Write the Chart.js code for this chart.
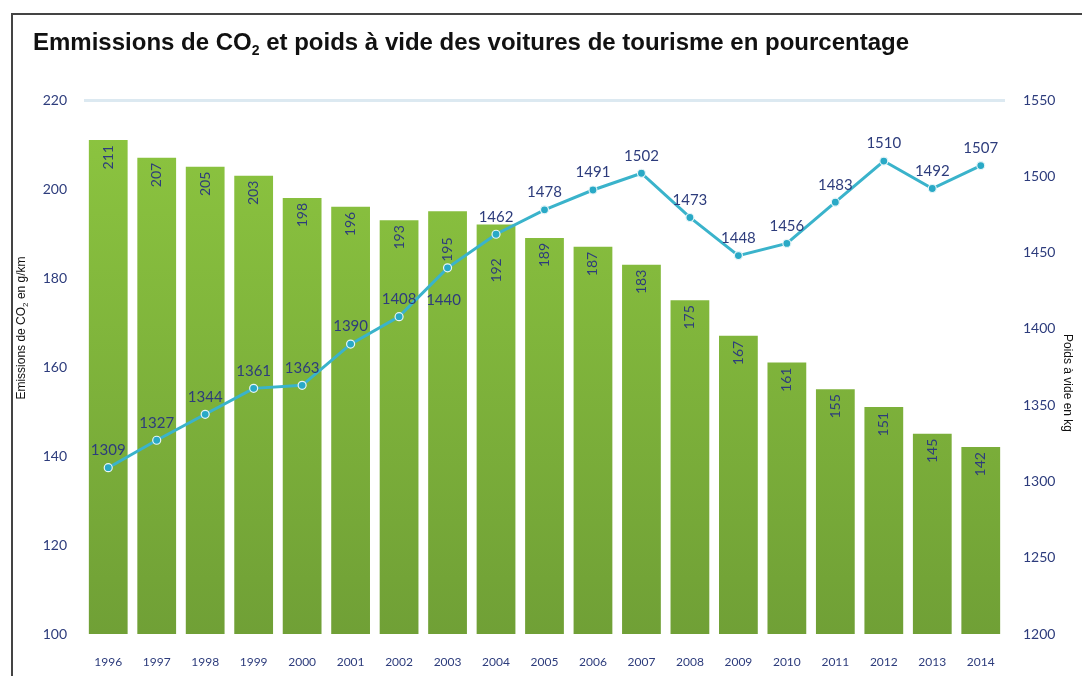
<!DOCTYPE html>
<html>
<head>
<meta charset="utf-8">
<script src="https://cdn.jsdelivr.net/npm/chart.js@4.4.0/dist/chart.umd.min.js"></script>
<style>
html, body { margin: 0; padding: 0; background: #fff; }
#wrap { position: relative; width: 1082px; height: 676px; overflow: hidden; }
#frame { position: absolute; left: 11px; top: 13px; width: 1200px; height: 800px; border-top: 2px solid #444; border-left: 2px solid #444; }
#title { position: absolute; left: 33px; top: 28px; font: bold 24px "Liberation Sans", Arial, sans-serif; color: #111; white-space: nowrap; }
#title sub { font-size: 14px; vertical-align: -5px; line-height: 0; }
.ytitle { position: absolute; font: 12px "Liberation Sans", Arial, sans-serif; color: #111; white-space: nowrap; }
.ytitle sub { font-size: 8px; line-height: 0; }
#yl { left: 21px; top: 328px; transform: translate(-50%, -50%) rotate(-90deg); }
#yr { left: 1068px; top: 383px; transform: translate(-50%, -50%) rotate(90deg); }
canvas { position: absolute; left: 0; top: 0; }
</style>
</head>
<body>
<div id="wrap">
  <canvas id="graph" width="1082" height="676"></canvas>
  <div id="frame"></div>
  <div id="title">Emmissions de CO<sub>2</sub> et poids à vide des voitures de tourisme en pourcentage</div>
  <div class="ytitle" id="yl">Emissions de CO<sub>2</sub> en g/km</div>
  <div class="ytitle" id="yr">Poids à vide en kg</div>
</div>
<script>
// data
const years = ['1996', '1997', '1998', '1999', '2000', '2001', '2002', '2003', '2004', '2005',
               '2006', '2007', '2008', '2009', '2010', '2011', '2012', '2013', '2014'];
const co2Values = [211, 207, 205, 203, 198, 196, 193, 195, 192, 189, 187, 183, 175, 167, 161, 155, 151, 145, 142];
const weightValues = [1309, 1327, 1344, 1361, 1363, 1390, 1408, 1440, 1462, 1478, 1491, 1502, 1473, 1448, 1456, 1483, 1510, 1492, 1507];
const co2Ticks = [100, 120, 140, 160, 180, 200, 220];
const weightTicks = [1200, 1250, 1300, 1350, 1400, 1450, 1500, 1550];

const labelBlue = '#2d3c7c';
const labelFont = '"Lato", "Open Sans", sans-serif';

function barGradient(context) {
    const chart = context.chart;
    const area = chart.chartArea;
    if (!area) return '#7fb33b';
    const g = chart.ctx.createLinearGradient(0, area.top, 0, area.bottom);
    g.addColorStop(0, '#8dc640');
    g.addColorStop(1, '#70a036');
    return g;
}

// where the bar label sits: near the bar top, moved out of the way of the line point
function barLabelSpan(chart, i, textLen) {
    const bar = chart.getDatasetMeta(1).data[i];
    const pt = chart.getDatasetMeta(0).data[i];
    let top = bar.y + 5;
    let mode = 'normal';
    if (pt.y >= top - 4 && pt.y <= top + textLen + 4) {
        top = pt.y + 24;            // point inside the label -> go below it
        mode = 'below';
    } else if (pt.y > top + textLen && pt.y - (top + textLen) < 32) {
        top = pt.y - 6 - textLen;   // point just under the label -> hug it
        mode = 'hug';
    }
    return { top: top, mode: mode };
}

const valueLabels = {
    id: 'valueLabels',
    afterDatasetDraw(chart, args) {
        const ctx = chart.ctx;
        const ds = chart.data.datasets[args.index];
        ctx.save();
        ctx.fillStyle = labelBlue;
        if (ds.type === 'bar') {
            ctx.font = '14px ' + labelFont;
            args.meta.data.forEach((el, i) => {
                const txt = String(ds.data[i]);
                const span = barLabelSpan(chart, i, ctx.measureText(txt).width);
                ctx.save();
                ctx.translate(el.x, span.top);
                ctx.rotate(-Math.PI / 2);
                ctx.textAlign = 'right';
                ctx.textBaseline = 'middle';
                ctx.fillText(txt, 0, 0);
                ctx.restore();
            });
        } else {
            ctx.font = '15px ' + labelFont;
            ctx.textAlign = 'center';
            args.meta.data.forEach((el, i) => {
                const span = barLabelSpan(chart, i, 24);
                if (span.mode === 'hug') {
                    ctx.textBaseline = 'top';
                    ctx.fillText(String(ds.data[i]), el.x - 4, el.y + 25);
                } else {
                    ctx.textBaseline = 'bottom';
                    ctx.fillText(String(ds.data[i]), el.x, el.y - 10);
                }
            });
        }
        ctx.restore();
    }
};

const graph = document.getElementById('graph').getContext('2d');
let myChart = new Chart(graph, {
    data: {
        labels: years,
        datasets: [{
            type: 'line',
            data: weightValues,
            yAxisID: 'yRight',
            borderColor: '#3ab3cb',
            borderWidth: 3,
            pointRadius: 4,
            pointBackgroundColor: '#29a9c6',
            pointBorderColor: '#e6f5f8',
            pointBorderWidth: 1.2,
            tension: 0,
            order: 0
        }, {
            type: 'bar',
            data: co2Values,
            yAxisID: 'yLeft',
            backgroundColor: barGradient,
            barPercentage: 0.8,
            categoryPercentage: 1,
            order: 1
        }]
    },
    plugins: [valueLabels],
    options: {
        responsive: false,
        animation: false,
        devicePixelRatio: 1,
        layout: { padding: { top: 100, left: 0, right: 0, bottom: 0 } },
        plugins: {
            legend: { display: false },
            tooltip: { enabled: false }
        },
        scales: {
            x: {
                grid: { display: false },
                border: { display: false },
                ticks: {
                    color: labelBlue,
                    font: { family: labelFont, size: 12 },
                    padding: 13,
                    maxRotation: 0
                },
                afterFit(scale) { scale.height = 42; }
            },
            yLeft: {
                position: 'left',
                min: co2Ticks[0],
                max: co2Ticks[co2Ticks.length - 1],
                afterBuildTicks(scale) { scale.ticks = co2Ticks.map(v => ({ value: v })); },
                grid: {
                    drawTicks: false,
                    color: (c) => c.tick && c.tick.value === 220 ? '#dce9f1' : 'rgba(0,0,0,0)',
                    lineWidth: 3
                },
                border: { display: false },
                ticks: {
                    color: labelBlue,
                    font: { family: labelFont, size: 14 },
                    padding: 17,
                    callback: (v) => String(v)
                },
                afterFit(scale) { scale.width = 84; }
            },
            yRight: {
                position: 'right',
                min: weightTicks[0],
                max: weightTicks[weightTicks.length - 1],
                afterBuildTicks(scale) { scale.ticks = weightTicks.map(v => ({ value: v })); },
                grid: { display: false, drawTicks: false },
                border: { display: false },
                ticks: {
                    color: labelBlue,
                    font: { family: labelFont, size: 14 },
                    padding: 18,
                    callback: (v) => String(v)
                },
                afterFit(scale) { scale.width = 77; }
            }
        }
    }
});
</script>
</body>
</html>
